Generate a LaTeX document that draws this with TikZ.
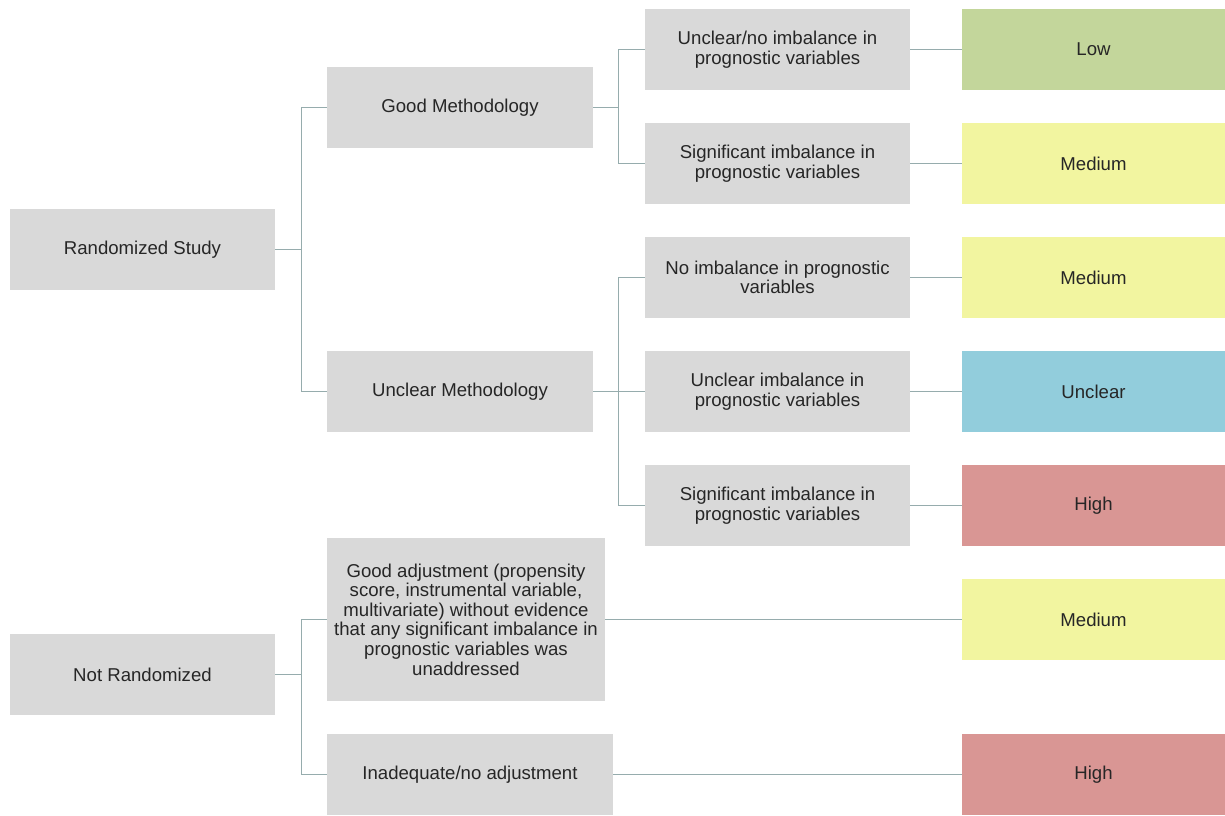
\documentclass[tikz,border=0pt]{standalone}
\usepackage{fontspec}
\setmainfont{Liberation Sans}
\definecolor{cd9d9d9}{RGB}{217,217,217}
\definecolor{cc3d69b}{RGB}{195,214,155}
\definecolor{cf2f5a0}{RGB}{242,245,160}
\definecolor{c92cddc}{RGB}{146,205,220}
\definecolor{cd99694}{RGB}{217,150,148}
\definecolor{c9fb3b3}{RGB}{150,172,173}
\definecolor{c262626}{RGB}{38,38,38}
\tikzset{
  box/.style={rectangle, fill=cd9d9d9, inner sep=0pt, outer sep=0pt,
    minimum height=81pt, align=center, text=c262626,
    font=\fontsize{18.6}{19.6}\selectfont},
  link/.style={draw=c9fb3b3, line width=1pt}
}

\begin{document}
\begin{tikzpicture}[y=1pt, x=1pt, yscale=-1]
  \useasboundingbox (0,0) rectangle (1225,815);
  % level 1
  \node[box,minimum width=265pt] (rand) at (142.5,249.5) {Randomized Study};
  \node[box,minimum width=265pt] (nonrand) at (142.5,674.5) {Not Randomized};
  % level 2
  \node[box,minimum width=266pt] (goodmeth) at (460,107.5) {Good Methodology};
  \node[box,minimum width=266pt] (unclmeth) at (460,391.5) {Unclear Methodology};
  \node[box,minimum width=278pt,minimum height=163pt] (goodadj) at (466,619.5)
    {Good adjustment (propensity\\score, instrumental variable,\\multivariate)
     without evidence\\that any significant imbalance in\\prognostic variables
     was\\unaddressed};
  \node[box,minimum width=286pt] (inadeq) at (470,774.5) {Inadequate/no adjustment};
  % level 3
  \node[box,minimum width=265pt] (imbA) at (777.5,49.5)
    {Unclear/no imbalance in\\prognostic variables};
  \node[box,minimum width=265pt] (imbB) at (777.5,163.5)
    {Significant imbalance in\\prognostic variables};
  \node[box,minimum width=265pt] (imbC) at (777.5,277.5)
    {No imbalance in prognostic\\variables};
  \node[box,minimum width=265pt] (imbD) at (777.5,391.5)
    {Unclear imbalance in\\prognostic variables};
  \node[box,minimum width=265pt] (imbE) at (777.5,505.5)
    {Significant imbalance in\\prognostic variables};
  % level 4 (risk)
  \node[box,minimum width=263pt,fill=cc3d69b] (riskA) at (1093.5,49.5) {Low};
  \node[box,minimum width=263pt,fill=cf2f5a0] (riskB) at (1093.5,163.5) {Medium};
  \node[box,minimum width=263pt,fill=cf2f5a0] (riskC) at (1093.5,277.5) {Medium};
  \node[box,minimum width=263pt,fill=c92cddc] (riskD) at (1093.5,391.5) {Unclear};
  \node[box,minimum width=263pt,fill=cd99694] (riskE) at (1093.5,505.5) {High};
  \node[box,minimum width=263pt,fill=cf2f5a0] (riskF) at (1093.5,619.5) {Medium};
  \node[box,minimum width=263pt,fill=cd99694] (riskG) at (1093.5,774.5) {High};
  % bus lines
  \coordinate (busA) at (301,0);
  \coordinate (busB) at (618,0);
  \path[link] (rand.east) -- (rand.east -| busA) |- (goodmeth.west);
  \path[link] (rand.east -| busA) |- (unclmeth.west);
  \path[link] (nonrand.east) -- (nonrand.east -| busA) |- (goodadj.west);
  \path[link] (nonrand.east -| busA) |- (inadeq.west);
  \path[link] (goodmeth.east) -- (goodmeth.east -| busB) |- (imbA.west);
  \path[link] (goodmeth.east -| busB) |- (imbB.west);
  \path[link] (unclmeth.east) -- (imbD.west);
  \path[link] (unclmeth.east -| busB) |- (imbC.west);
  \path[link] (unclmeth.east -| busB) |- (imbE.west);
  \path[link] (imbA) -- (riskA);
  \path[link] (imbB) -- (riskB);
  \path[link] (imbC) -- (riskC);
  \path[link] (imbD) -- (riskD);
  \path[link] (imbE) -- (riskE);
  \path[link] (goodadj.east) -- (riskF.west);
  \path[link] (inadeq.east) -- (riskG.west);
\end{tikzpicture}
\end{document}
